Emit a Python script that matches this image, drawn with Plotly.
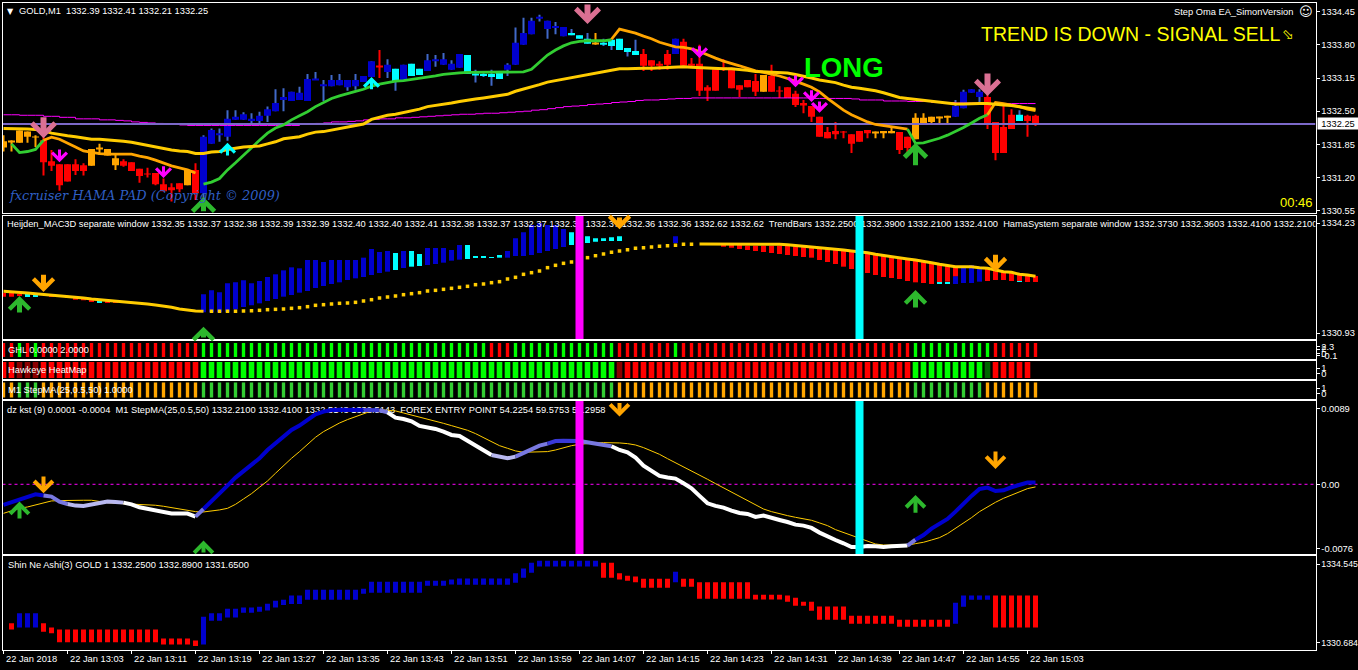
import plotly.graph_objects as go

# ---------- main candles (12:55 .. 15:04, one bar per minute) ----------
body_top = [1331.91,1331.91,1332.12,1332.10,1332.00,1331.93,1331.52,1331.46,1331.46,1331.46,
1331.44,1331.76,1331.77,1331.76,1331.58,1331.52,1331.50,1331.37,1331.27,1331.29,
1331.07,1331.01,1331.09,1331.35,1331.35,1332.00,1332.13,1332.07,1332.35,1332.39,
1332.44,1332.35,1332.41,1332.54,1332.66,1332.78,1332.88,1332.86,1333.13,1333.13,
1333.03,1333.11,1333.11,1333.11,1333.11,1333.19,1333.48,1333.39,1333.41,1333.33,
1333.41,1333.43,1333.33,1333.50,1333.52,1333.52,1333.43,1333.62,1333.60,1333.23,
1333.23,1333.23,1333.29,1333.41,1333.84,1334.03,1334.27,1334.35,1334.27,1334.17,
1334.15,1334.03,1333.99,1333.92,1333.84,1333.84,1333.90,1333.92,1333.74,1333.68,
1333.62,1333.50,1333.43,1333.62,1333.92,1333.86,1333.43,1333.43,1332.97,1333.32,
1333.34,1333.35,1333.01,1333.11,1333.09,1333.21,1333.19,1332.90,1332.97,1332.84,
1332.66,1332.60,1332.39,1332.09,1332.11,1332.10,1332.05,1332.11,1332.13,1332.10,
1332.11,1332.11,1332.09,1332.00,1332.37,1332.37,1332.39,1332.39,1332.41,1332.60,
1332.88,1332.93,1332.88,1332.78,1332.29,1332.19,1332.43,1332.43,1332.41,1332.41]
body_bottom = [1331.79,1331.89,1331.88,1332.00,1331.99,1331.50,1331.43,1331.05,1331.12,1331.33,
1331.33,1331.43,1331.75,1331.63,1331.44,1331.43,1331.33,1331.23,1331.26,1331.07,
1330.93,1330.95,1330.97,1331.05,1330.89,1330.89,1331.86,1332.03,1332.00,1332.33,
1332.33,1332.31,1332.31,1332.41,1332.50,1332.72,1332.70,1332.72,1332.70,1333.11,
1332.99,1332.99,1333.01,1332.97,1332.99,1333.07,1333.17,1333.37,1333.27,1333.09,
1333.09,1333.19,1333.21,1333.29,1333.48,1333.41,1333.31,1333.35,1333.23,1333.21,
1333.19,1333.17,1333.13,1333.31,1333.41,1333.80,1334.01,1334.31,1334.11,1334.13,
1333.97,1333.99,1333.92,1333.82,1333.82,1333.80,1333.78,1333.70,1333.66,1333.60,
1333.39,1333.39,1333.39,1333.41,1333.62,1333.39,1333.39,1332.90,1332.90,1332.90,
1333.33,1332.95,1332.92,1332.97,1332.88,1332.88,1332.88,1332.89,1332.76,1332.62,
1332.61,1332.39,1332.00,1331.97,1332.05,1332.09,1331.86,1331.90,1332.07,1332.08,
1332.07,1332.07,1331.74,1331.78,1331.95,1332.27,1332.29,1332.37,1332.37,1332.39,
1332.56,1332.86,1332.78,1332.25,1331.68,1331.68,1332.15,1332.31,1332.31,1332.25]
candle_high = [1332.03,1331.93,1332.12,1332.10,1332.03,1332.00,1331.74,1331.46,1331.46,1331.56,
1331.48,1331.76,1331.86,1331.76,1331.64,1331.56,1331.50,1331.37,1331.39,1331.29,
1331.18,1331.09,1331.09,1331.35,1331.48,1332.03,1332.16,1332.16,1332.52,1332.52,
1332.48,1332.46,1332.49,1332.59,1332.93,1332.95,1332.88,1332.98,1333.23,1333.27,
1333.11,1333.21,1333.23,1333.11,1333.23,1333.19,1333.48,1333.70,1333.52,1333.33,
1333.41,1333.43,1333.33,1333.62,1333.60,1333.64,1333.50,1333.62,1333.60,1333.31,
1333.29,1333.31,1333.29,1333.44,1334.14,1334.33,1334.33,1334.39,1334.27,1334.25,
1334.15,1334.11,1333.99,1334.03,1334.03,1333.92,1333.90,1333.92,1333.74,1333.90,
1333.72,1333.50,1333.48,1333.70,1333.92,1333.92,1333.54,1333.80,1333.01,1333.32,
1333.52,1333.35,1333.01,1333.11,1333.23,1333.21,1333.41,1332.99,1332.97,1332.90,
1332.72,1332.60,1332.39,1332.19,1332.29,1332.11,1332.05,1332.11,1332.13,1332.10,
1332.11,1332.17,1332.09,1332.00,1332.46,1332.46,1332.39,1332.39,1332.41,1332.72,
1332.92,1332.93,1332.93,1332.85,1332.29,1332.62,1332.54,1332.52,1332.43,1332.43]
candle_low = [1331.71,1331.71,1331.88,1331.88,1331.80,1331.24,1331.33,1330.94,1331.12,1331.25,
1331.24,1331.43,1331.64,1331.63,1331.35,1331.41,1331.33,1331.10,1331.20,1331.05,
1330.93,1330.73,1330.91,1331.05,1330.76,1330.69,1331.86,1331.90,1331.92,1332.33,
1332.33,1332.27,1332.27,1332.29,1332.50,1332.50,1332.70,1332.72,1332.70,1333.11,
1332.70,1332.99,1333.01,1332.90,1332.92,1333.07,1333.17,1333.15,1333.15,1332.90,
1333.09,1333.19,1333.21,1333.29,1333.37,1333.41,1333.31,1333.35,1333.23,1333.06,
1333.17,1333.00,1333.13,1333.19,1333.41,1333.80,1334.01,1334.26,1333.92,1334.01,
1333.97,1333.99,1333.92,1333.82,1333.80,1333.78,1333.70,1333.70,1333.57,1333.60,
1333.29,1333.29,1333.31,1333.31,1333.62,1333.39,1333.35,1332.80,1332.70,1332.90,
1333.29,1332.95,1332.78,1332.97,1332.80,1332.88,1332.88,1332.76,1332.76,1332.58,
1332.46,1332.29,1332.00,1331.97,1331.95,1331.97,1331.68,1331.90,1331.97,1331.97,
1331.97,1332.07,1331.66,1331.66,1331.95,1332.27,1332.25,1332.25,1332.27,1332.39,
1332.56,1332.86,1332.68,1332.15,1331.54,1331.68,1332.15,1332.31,1332.00,1332.21]
# per bar: r red, o orange, b blue, c cyan
candle_kind = ("ooooo" + "r"*6 + "oooo" + "r"*8 + "o" + "r" + "b"*22 + "r" + "b" + "c" + "b" + "cc"
               + "b"*5 + "c"*5 + "b"*8 + "c"*3 + "o" + "c"*5 + "r"*4 + "b" + "r"*10 + "o" + "r"*13
               + "ooo" + "rr" + "ooooo" + "bbbb" + "rrrr" + "c" + "rr")

# ---------- main overlay lines ----------
gold_ma = [1332.16,1332.16,1332.16,1332.15,1332.14,1332.12,1332.07,1332.04,1332.02,1332.00,
1331.97,1331.95,1331.95,1331.94,1331.93,1331.91,1331.89,1331.86,1331.83,1331.80,
1331.76,1331.74,1331.72,1331.71,1331.67,1331.67,1331.70,1331.71,1331.75,1331.78,
1331.80,1331.81,1331.82,1331.86,1331.90,1331.96,1331.98,1332.00,1332.05,1332.09,
1332.10,1332.13,1332.16,1332.19,1332.22,1332.25,1332.34,1332.38,1332.42,1332.44,
1332.47,1332.50,1332.54,1332.59,1332.61,1332.64,1332.66,1332.69,1332.72,1332.74,
1332.76,1332.78,1332.80,1332.83,1332.89,1332.93,1332.97,1333.02,1333.07,1333.10,
1333.13,1333.16,1333.19,1333.22,1333.24,1333.28,1333.31,1333.33,1333.33,1333.34,
1333.34,1333.34,1333.35,1333.36,1333.37,1333.37,1333.36,1333.35,1333.34,1333.34,
1333.33,1333.33,1333.32,1333.30,1333.28,1333.27,1333.27,1333.26,1333.25,1333.22,
1333.19,1333.15,1333.11,1333.09,1333.06,1333.01,1332.97,1332.95,1332.93,1332.90,
1332.86,1332.82,1332.77,1332.75,1332.73,1332.72,1332.70,1332.67,1332.65,1332.64,
1332.64,1332.65,1332.65,1332.65,1332.63,1332.62,1332.61,1332.59,1332.56,1332.54]
magenta_ma = [1332.43,1332.43,1332.42,1332.42,1332.42,1332.40,1332.40,1332.38,1332.38,1332.35,
1332.35,1332.35,1332.33,1332.33,1332.32,1332.31,1332.29,1332.28,1332.27,1332.26,
1332.25,1332.24,1332.23,1332.22,1332.22,1332.22,1332.22,1332.22,1332.22,1332.22,
1332.22,1332.22,1332.22,1332.22,1332.22,1332.22,1332.22,1332.24,1332.25,1332.26,
1332.27,1332.29,1332.29,1332.30,1332.31,1332.33,1332.34,1332.35,1332.35,1332.37,
1332.37,1332.38,1332.39,1332.40,1332.41,1332.42,1332.43,1332.44,1332.44,1332.45,
1332.46,1332.46,1332.47,1332.48,1332.49,1332.50,1332.52,1332.53,1332.55,1332.57,
1332.59,1332.60,1332.61,1332.63,1332.64,1332.65,1332.67,1332.68,1332.69,1332.71,
1332.72,1332.72,1332.73,1332.74,1332.75,1332.75,1332.76,1332.76,1332.76,1332.76,
1332.76,1332.76,1332.76,1332.76,1332.76,1332.76,1332.76,1332.76,1332.76,1332.76,
1332.76,1332.75,1332.75,1332.75,1332.75,1332.75,1332.74,1332.72,1332.72,1332.72,
1332.70,1332.70,1332.70,1332.69,1332.69,1332.69,1332.67,1332.67,1332.67,1332.66,
1332.66,1332.66,1332.65,1332.65,1332.65,1332.65,1332.65,1332.65,1332.65,1332.65]
# step MA runs: (first bar, values, colour key)
step_runs = [
 (1, [1331.86,1331.69,1331.71,1331.75,1331.93], "g"),
 (5, [1331.93,1331.99,1331.95,1331.88,1331.80,1331.72,1331.69,1331.67,1331.66,1331.66,1331.66,
      1331.66,1331.62,1331.59,1331.54,1331.48,1331.43,1331.39,1331.35,1331.29], "o"),
 (25,[1331.07,1331.11,1331.18,1331.35,1331.49,1331.64,1331.80,1331.93,1332.07,1332.17,1332.23,
      1332.33,1332.41,1332.49,1332.59,1332.67,1332.75,1332.80,1332.85,1332.89,1332.93,1332.99,
      1333.03,1333.06,1333.09,1333.10,1333.12,1333.14,1333.17,1333.19,1333.22,1333.24,1333.25,
      1333.26,1333.26,1333.26,1333.26,1333.26,1333.27,1333.27,1333.27,1333.32,1333.47,1333.60,
      1333.70,1333.78,1333.84,1333.87,1333.88,1333.88,1333.88,1333.90], "g"),
 (76,[1333.91,1334.11,1334.07,1334.03,1333.97,1333.92,1333.85,1333.80,1333.76,1333.75,1333.72,
      1333.67,1333.60,1333.54,1333.48,1333.44,1333.39,1333.34,1333.29,1333.26,1333.23,1333.19,
      1333.14,1333.09,1333.03,1332.97,1332.88,1332.75,1332.63,1332.52,1332.43,1332.36,1332.29,
      1332.24,1332.22,1332.20,1332.18,1332.15], "o"),
 (113,[1332.15,1331.87,1331.88,1331.92,1331.97,1332.03,1332.10,1332.18,1332.27,1332.36,1332.43], "g"),
 (123,[1332.43,1332.67,1332.65,1332.62,1332.59,1332.54,1332.51], "o"),
]
current_price = 1332.25

# ---------- Heijden panel ----------
heijden_line = [1332.18,1332.17,1332.15,1332.13,1332.11,1332.09,1332.08,1332.06,1332.03,1332.00,
1331.98,1331.95,1331.93,1331.90,1331.89,1331.88,1331.86,1331.83,1331.80,1331.77,
1331.74,1331.70,1331.65,1331.61,1331.59,1331.58,1331.58,1331.58,1331.58,1331.58,
1331.59,1331.60,1331.61,1331.63,1331.64,1331.65,1331.67,1331.69,1331.72,1331.76,
1331.78,1331.80,1331.82,1331.83,1331.85,1331.89,1331.93,1331.98,1332.01,1332.04,
1332.08,1332.11,1332.14,1332.19,1332.21,1332.24,1332.27,1332.30,1332.33,1332.38,
1332.40,1332.44,1332.47,1332.55,1332.60,1332.69,1332.74,1332.79,1332.89,1332.96,
1333.02,1333.06,1333.12,1333.19,1333.25,1333.30,1333.35,1333.39,1333.43,1333.47,
1333.49,1333.51,1333.53,1333.55,1333.56,1333.59,1333.59,1333.60,1333.60,1333.60,
1333.61,1333.60,1333.59,1333.59,1333.59,1333.59,1333.59,1333.59,1333.58,1333.56,
1333.54,1333.52,1333.50,1333.48,1333.44,1333.42,1333.39,1333.37,1333.34,1333.29,
1333.25,1333.22,1333.19,1333.15,1333.12,1333.09,1333.04,1332.99,1332.95,1332.92,
1332.92,1332.92,1332.89,1332.87,1332.82,1332.77,1332.75,1332.69,1332.67,1332.63]
N = None
heijden_top = [1332.13,1332.13,1332.09,1332.12,1332.09,1332.09,1332.07,1332.06,1332.02,1331.99,
1331.97,1331.92,1331.89,1331.89,1331.89,1331.88,1331.86,1331.83,1331.80,1331.77,
1331.74,1331.70,1331.65,1331.61,1331.59,1332.09,1332.21,1332.15,1332.42,1332.45,
1332.51,1332.42,1332.49,1332.61,1332.69,1332.81,1332.90,1332.87,1333.12,1333.12,
1333.06,1333.12,1333.12,1333.12,1333.12,1333.19,1333.45,1333.36,1333.39,1333.33,
1333.39,1333.39,1333.30,1333.48,1333.48,1333.48,1333.42,1333.57,1333.57,1333.23,
1333.23,1333.21,1333.27,1333.39,1333.77,1333.95,1334.17,1334.23,1334.17,1334.17,
1334.05,1333.95,1333.87,1333.83,1333.77,1333.77,1333.80,1333.83,N,N,
N,N,N,N,1333.83,N,N,N,N,N,
1333.59,1333.59,1333.57,1333.55,1333.55,1333.55,1333.55,1333.55,1333.55,1333.55,
1333.51,1333.51,1333.49,1333.47,1333.44,1333.42,1333.39,1333.37,1333.32,1333.29,
1333.25,1333.22,1333.19,1333.15,1333.12,1333.09,1333.04,1332.99,1332.95,1332.92,
1332.92,1332.97,1332.92,1332.87,1332.82,1332.77,1332.75,1332.69,1332.67,1332.64]
heijden_bottom = [1332.02,1332.02,1332.05,1332.01,1332.01,1332.07,1332.01,1332.02,1331.99,1331.93,
1331.91,1331.86,1331.83,1331.85,1331.84,1331.85,1331.83,1331.81,1331.78,1331.75,
1331.72,1331.68,1331.63,1331.59,1331.57,1331.55,1331.55,1331.55,1331.57,1331.64,
1331.71,1331.76,1331.82,1331.89,1331.95,1332.02,1332.07,1332.14,1332.19,1332.28,
1332.34,1332.40,1332.45,1332.52,1332.57,1332.61,1332.67,1332.73,1332.77,1332.82,
1332.88,1332.92,1332.94,1332.97,1333.00,1333.04,1333.10,1333.13,1333.15,1333.19,
1333.19,1333.19,1333.19,1333.19,1333.24,1333.24,1333.27,1333.33,1333.39,1333.45,
1333.51,1333.57,1333.62,1333.63,1333.67,1333.69,1333.69,1333.69,N,N,
N,N,N,N,1333.63,N,N,N,N,N,
1333.52,1333.49,1333.45,1333.42,1333.39,1333.36,1333.33,1333.30,1333.27,1333.24,
1333.21,1333.19,1333.12,1333.06,1333.00,1332.92,1332.85,1332.79,1332.73,1332.67,
1332.61,1332.58,1332.55,1332.49,1332.45,1332.43,1332.40,1332.45,1332.47,1332.62,
1332.43,1332.43,1332.47,1332.49,1332.52,1332.52,1332.49,1332.49,1332.46,1332.46]
heijden_kind = ("rrr"+"cc"+"r"*7+"c"+"r"*12+"b"*24+"c"+"b"+"cc"+"b"*5+"c"*5+"b"*8+"c"*7+"n"*6+"b"+"n"*5
                +"r"*30+"bbb"+"r"*7)
heijden_extra_bar = [117,118,119,127]
heijden_extra_top = [1332.46,1332.46,1332.63,1332.49]
heijden_extra_bottom = [1332.41,1332.41,1332.40,1332.46]
heijden_extra_kind = "ccbc"

# ---------- signal strips ----------
ghl_state = "rrgrg"+"r"*20+"g"*36+"rrr"+"g"*13+"r"*7+"g"+"r"*29+"g"*10+"r"*6
hawkeye_state = "rrddd"+"r"*20+"g"*52+"d"+"r"*36+"g"*9+"k"+"r"*5+"n"
stepma_state = "oo"+"ggg"+"o"*20+"g"*52+"o"*37+"g"*9+"o"*7

# ---------- KST panel (thousandths) ----------
kst_milli = [-2.43,-2.12,-1.73,-1.45,-1.18,-1.33,-1.45,-2.04,-2.32,-2.51,
-2.55,-2.36,-2.12,-2.04,-2.08,-2.16,-2.36,-2.71,-2.87,-3.06,
-3.26,-3.45,-3.45,-3.45,-3.81,-2.91,-2.04,-1.14,-0.16,0.79,
1.57,2.36,3.06,4.04,4.83,5.61,6.40,6.91,7.54,8.24,
8.56,8.75,8.79,8.79,8.75,8.75,8.75,8.72,8.48,7.85,
7.69,7.42,6.87,6.71,6.52,6.20,5.81,5.69,5.14,4.55,
4.04,3.45,3.22,3.06,3.26,3.65,4.04,4.55,4.79,5.10,
5.14,5.14,5.10,4.95,4.79,4.63,4.48,4.04,3.77,3.14,
2.20,1.57,0.98,0.79,0.67,0.12,-0.47,-1.37,-2.24,-2.55,
-2.75,-3.10,-3.38,-3.49,-3.85,-3.69,-4.00,-4.20,-4.44,-4.75,
-4.87,-5.14,-5.69,-6.16,-6.56,-6.95,-7.38,-7.38,-7.26,-7.30,
-7.38,-7.30,-7.26,-7.22,-6.52,-5.97,-5.22,-4.59,-4.08,-3.22,
-2.24,-1.37,-0.55,-0.39,-0.79,-0.71,-0.35,-0.08,0.20,0.20]
kst_signal_milli = [-3.42,-3.14,-2.83,-2.67,-2.43,-2.16,-1.96,-1.92,-1.88,-1.88,
-1.88,-1.88,-2.04,-2.16,-2.24,-2.28,-2.32,-2.36,-2.39,-2.47,
-2.59,-2.75,-2.91,-3.06,-3.22,-3.26,-3.18,-3.02,-2.83,-2.36,
-1.73,-1.10,-0.35,0.39,1.30,2.20,3.06,3.85,4.75,5.54,
6.20,6.75,7.22,7.62,7.97,8.36,8.64,8.79,8.72,8.64,
8.40,8.17,7.93,7.69,7.46,7.18,6.91,6.67,6.36,5.97,
5.50,5.03,4.55,4.24,3.93,3.77,3.77,3.81,3.85,4.04,
4.32,4.55,4.71,4.83,4.87,4.91,4.91,4.87,4.79,4.63,
4.32,3.93,3.53,3.02,2.55,2.04,1.57,1.06,0.59,0.08,
-0.43,-0.90,-1.37,-1.96,-2.43,-2.91,-3.22,-3.49,-3.69,-3.89,
-4.08,-4.24,-4.55,-4.87,-5.34,-5.69,-6.05,-6.40,-6.75,-7.03,
-7.15,-7.18,-7.22,-7.18,-6.99,-6.83,-6.56,-6.28,-5.81,-5.18,
-4.59,-3.93,-3.22,-2.63,-2.12,-1.65,-1.26,-0.86,-0.51,-0.31]
kst_shade = "B"*6+"M"*3+"L"*7+"W"*9+"M"+"B"*20+"DD"+"M"+"W"*13+"LLL"+"M"*4+"D"*4+"M"*4+"W"*37+"M"+"B"*15

# ---------- Shin Ne Ashi panel ----------
shin_top = [N,1331.64,1332.13,1332.13,1332.13,1331.64,1331.44]+[1331.34]*13+[1330.90]*4+[1330.80,1331.96,
 1332.13,1332.13,1332.36,1332.36,1332.42,1332.42,1332.45,1332.60,1332.75,1332.80,1333.00,1333.00]+[1333.29]*7+[1333.34]+[1333.68]*7+[1333.73]*3+[1333.79]+[1333.84]*7+[1334.09,1334.33,1334.61]+[1334.71]*8+[1334.61,1334.61,1334.09,1333.97,1333.93]+[1333.83]*4+[1334.17,1333.83,1333.83]+[1333.65]*7+[1333.04]*4+[1333.00,1332.90,1332.70,1332.70]+[1332.47]*4+[1332.01]*6+[1331.82]*7+[1332.65,1333.00,1333.00,1333.00,1333.00]+[1333.00]*6
shin_bottom = [N,1331.34,1331.44,1331.44,1331.44,1331.23,1331.15]+[1330.71]*13+[1330.61]*4+[1330.53,1330.61,
 1331.77,1331.77,1331.93,1331.93,1332.16,1332.16,1332.21,1332.27,1332.42,1332.54,1332.59,1332.59]+[1332.80]*7+[1333.09]+[1333.14]*7+[1333.48]*3+[1333.55]+[1333.53]*7+[1333.63,1333.88,1334.12]+[1334.43]*8+[1333.88,1333.88,1333.79,1333.73,1333.65]+[1333.39]*4+[1333.65,1333.43,1333.43]+[1332.85]*7+[1332.81]*4+[1332.70,1332.50,1332.50,1332.26]+[1331.82]*4+[1331.62]*6+[1331.47]*7+[1331.62,1332.45,1332.80,1332.80,1332.80]+[1331.44]*6
shin_kind = "n"+"r"+"bbb"+"r"*20+"b"*50+"r"*9+"b"+"r"*34+"b"*5+"r"*6

# ---------- axes, labels ----------
bars = list(range(130))
time_tick_bars = [0,8,16,24,32,40,48,56,64,72,80,88,96,104,112,120,128]
time_tick_labels = ["22 Jan 2018","22 Jan 13:03","22 Jan 13:11","22 Jan 13:19","22 Jan 13:27","22 Jan 13:35",
 "22 Jan 13:43","22 Jan 13:51","22 Jan 13:59","22 Jan 14:07","22 Jan 14:15","22 Jan 14:23","22 Jan 14:31",
 "22 Jan 14:39","22 Jan 14:47","22 Jan 14:55","22 Jan 15:03"]
main_ticks = [1334.45,1333.80,1333.15,1332.50,1331.85,1331.20,1330.55]
heijden_ticks = [1334.23,1330.93]
kst_ticks_milli = [8.9,0.0,-7.6]
kst_tick_text = ["0.0089","0.00","-0.0076"]
shin_ticks = [1334.545,1330.684]

FONT = "Liberation Sans"
TXT = 9.3
W, H = 1358, 670
L, R = 2.5, 1315.5
panels = {  # number: (top px, bottom px, y range)
 1:(2.5,213,[1330.505,1334.63]),
 2:(216,339,[1330.75,1334.44]),
 3:(341,359,[0,1]),
 4:(361,379,[0,1]),
 5:(381,399,[0,1]),
 6:(401,554,[-8.21,9.81]),
 7:(556,649.5,[1330.36,1334.94]),
}
X_RANGE = [(L-3.5)/8,(R-3.5)/8]

COL = dict(r="#FF0000",o="#FFA500",b="#0000CD",c="#00FFFF",g="#00FF00",d="#8B0000",k="#006400",n="rgba(0,0,0,0)")
GREEN = "#32CD32"; GOLD = "#FFCC00"; PINK = "#DB7093"; MAG = "#FF00FF"
WICK = dict(r="#FF0000",o="#FFA500",b="#4169C8",c="#4169C8")
KST = dict(B="#0000CD",D="#3A3AD6",M="#7878E0",L="#B8B8F0",W="#FFFFFF")

fig = go.Figure()
def ax(n): return ("x" if n==1 else f"x{n}"), ("y" if n==1 else f"y{n}")

def band(n, xs, tops, bottoms, colors, width):
    xa, ya = ax(n)
    ys = [None if t is None else t-b for t,b in zip(tops,bottoms)]
    fig.add_trace(go.Bar(x=xs,y=ys,base=bottoms,width=width,marker=dict(color=colors,line=dict(width=0)),
                         xaxis=xa,yaxis=ya,showlegend=False,hoverinfo="skip"))
def line(n, xs, ys, color, width, **kw):
    xa, ya = ax(n)
    fig.add_trace(go.Scatter(x=xs,y=ys,mode="lines",line=dict(color=color,width=width,**kw),
                             xaxis=xa,yaxis=ya,showlegend=False,hoverinfo="skip"))
def text_in(n, x, y, s, color="#FFFFFF", size=TXT):
    xa, ya = ax(n)
    fig.add_trace(go.Scatter(x=[x],y=[y],mode="text",text=[s],textposition="middle right",
                             textfont=dict(family=FONT,size=size,color=color),
                             xaxis=xa,yaxis=ya,showlegend=False,hoverinfo="skip"))
anns = []
def arrow(n, bar, tip, tail, color, width, size):
    xa, ya = ax(n)
    anns.append(dict(x=bar,y=tip,ax=bar,ay=tail,xref=xa,yref=ya,axref=xa,ayref=ya,text="",showarrow=True,
                     arrowhead=4,arrowsize=size,arrowwidth=width,arrowcolor=color,standoff=0,startstandoff=0))
def label(px, py, s, color="#FFFFFF", size=TXT, anchor="left", **kw):
    fam = kw.pop("family", FONT)
    anns.append(dict(x=px/W,y=1-py/H,xref="paper",yref="paper",text=s,showarrow=False,xanchor=anchor,yanchor="middle",
                     font=dict(family=fam,size=size,color=color),borderpad=0,**kw))

# main panel
band(1,bars,candle_high,candle_low,[WICK[k] for k in candle_kind],0.125)
band(1,bars,body_top,body_bottom,[COL[k] for k in candle_kind],0.875)
line(1,bars,magenta_ma,MAG,1,shape="hv")
line(1,[X_RANGE[0],X_RANGE[1]],[current_price,current_price],"#7B68C8",2)
for start,vals,key in step_runs:
    line(1,list(range(start,start+len(vals))),vals,GREEN if key=="g" else COL["o"],2.8)
line(1,bars,gold_ma,GOLD,3)

# heijden panel
hdr2a = ("Heijden_MAC3D separate window 1332.35 1332.37 1332.38 1332.39 1332.39 1332.40 1332.40 1332.41 1332.38 "
         "1332.37 1332.37 1332.37 1332.37 1332.36 1332.36 1332.62 1332.62  TrendBars 1332.2500 "
         "1332.3900 1332.2100 1332.4100  HamaSystem separate window 1332.3730 1332.3603 1332.4100 1332.2100")
text_in(2,(7-3.5)/8,1334.17,hdr2a)
band(2,bars,heijden_top,heijden_bottom,[COL[k] for k in heijden_kind],0.625)
band(2,heijden_extra_bar,heijden_extra_top,heijden_extra_bottom,[COL[k] for k in heijden_extra_kind],0.625)
line(2,bars[:26],heijden_line[:26],GOLD,3)
xa,ya = ax(2)
fig.add_trace(go.Scatter(x=bars[26:87],y=heijden_line[26:87],mode="markers",marker=dict(symbol="square",size=3.5,color=GOLD,line=dict(width=0)),
                         xaxis=xa,yaxis=ya,showlegend=False,hoverinfo="skip"))
line(2,bars[87:],heijden_line[87:],GOLD,3)
line(2,[72,72],panels[2][2],MAG,8)
line(2,[107,107],panels[2][2],COL["c"],8)

# strips
band(3,bars,[0.89]*130,[0.11]*130,[COL[k] for k in ghl_state],0.42)
band(4,bars,[0.95]*130,[0.05]*130,[COL[k] for k in hawkeye_state],0.7)
band(5,bars,[0.92]*130,[0.08]*130,[GREEN if k=="g" else COL[k] for k in stepma_state],0.42)

# kst panel
text_in(6,(7-3.5)/8,8.65,"dz kst (9) 0.0001 -0.0004  M1 StepMA(25,0.5,50) 1332.2100 1332.4100 1332.5143 1332.5143  FOREX ENTRY POINT 54.2254 59.5753 59.2958")
line(6,[X_RANGE[0],X_RANGE[1]],[0,0],MAG,1,dash="3px,3px")
line(6,bars,kst_signal_milli,GOLD,1)
start = 0
for i in range(1,131):
    if i==130 or kst_shade[i]!=kst_shade[start]:
        s = max(start-1,0)
        line(6,bars[s:i],kst_milli[s:i],KST[kst_shade[start]],4)
        start = i
line(6,[72,72],panels[6][2],MAG,8)
line(6,[107,107],panels[6][2],COL["c"],8)

# shin panel
band(7,bars,shin_top,shin_bottom,[COL[k] for k in shin_kind],0.625)

# arrows
for b,tip,tail in [(5,1331.97,1332.41),(73,1334.21,1334.62),(123,1332.80,1333.27)]: arrow(1,b,tip,tail,PINK,6,0.75)
for b,tip,tail in [(25,1330.82,1330.51),(114,1331.88,1331.41)]: arrow(1,b,tip,tail,"#2DB82D",5,0.85)
for b,tip,tail in [(7,1331.50,1331.78),(20,1331.19,1331.45),(87,1333.54,1333.80),(99,1332.97,1333.23),(101,1332.68,1332.94),(102,1332.47,1332.72)]: arrow(1,b,tip,tail,MAG,3,0.95)
for b,tip,tail in [(28,1331.88,1331.60),(46,1333.17,1332.90)]: arrow(1,b,tip,tail,COL["c"],3,0.95)
for b,tip,tail in [(5,1332.16,1332.72),(77,1334.04,1334.44),(124,1332.77,1333.32)]: arrow(2,b,tip,tail,COL["o"],5,0.78)
for b,tip,tail in [(2,1332.04,1331.50),(25,1331.12,1330.75),(114,1332.22,1331.65)]: arrow(2,b,tip,tail,"#2DB82D",5,0.78)
for b,tip,tail in [(2,-2.04,-4.20),(25,-6.63,-8.2),(114,-1.26,-3.53)]: arrow(6,b,tip,tail,"#2DB82D",4,0.9)
for b,tip,tail in [(5,-1.06,1.10),(77,7.97,9.75),(124,1.81,4.04)]: arrow(6,b,tip,tail,COL["o"],4,0.9)

# text
label(18,11,"GOLD,M1  1332.39 1332.41 1332.21 1332.25")
label(6,11,"▼",size=8,family="DejaVu Sans")
label(1173,11.5,"Step Oma EA_SimonVersion")
label(1298,11.5,"☺",size=13,family="DejaVu Sans")
label(980,34,"TREND IS DOWN - SIGNAL SELL",color="#FFFF00",size=19.5)
label(1281,34,"⬂",color="#FFFF00",size=14,family="DejaVu Sans")
label(803,68,"<b>LONG</b>",color="#00FF00",size=27.6)
label(1279,202,"00:46",color="#FFFF00",size=13)
label(8,195,"<i>fxcruiser HAMA PAD (Copyright © 2009)</i>",color="#2F5FC4",size=12.9,family="DejaVu Serif")
label(7,350,"GHL 0.0000 2.0000")
label(7,370,"Hawkeye HeatMap")
label(7,390,"M1 StepMA(25,0.5,50) 1.0000")
label(7,565,"Shin Ne Ashi(3) GOLD 1 1332.2500 1332.8900 1331.6500")
label(1317,123.5,"1332.25",color="#000000",bgcolor="#FFFFFF",width=40,height=11,align="center")
for t,s in zip(time_tick_bars,time_tick_labels):
    anns.append(dict(x=t,y=1-659/H,xref="x7",yref="paper",text=s,showarrow=False,xanchor="left",yanchor="middle",
                     font=dict(family=FONT,size=TXT,color="#FFFFFF")))

lay = dict(width=W,height=H,autosize=False,margin=dict(l=0,r=0,t=0,b=0,autoexpand=False),paper_bgcolor="#000000",plot_bgcolor="#000000",
           barmode="overlay",showlegend=False,annotations=anns,hovermode=False)
tick_sets = {1:(main_ticks,[f"{v:.2f}" for v in main_ticks]),
             2:(heijden_ticks,[f"{v:.2f}" for v in heijden_ticks]),
             3:([0.67,0.55,0.28,0.17],["2.3","2","0","-0.1"]),
             4:([0.6,0.3],["1","0"]),
             5:([0.6,0.3],["1","0"]),
             6:(kst_ticks_milli,kst_tick_text),
             7:(shin_ticks,[f"{v:.3f}" for v in shin_ticks])}
for n,(top,bot,rng) in panels.items():
    xn = "xaxis" if n==1 else f"xaxis{n}"
    yn = "yaxis" if n==1 else f"yaxis{n}"
    xa,ya = ax(n)
    lay[xn] = dict(domain=[L/W,R/W],range=X_RANGE,anchor=ya,showgrid=False,zeroline=False,showline=True,linecolor="#FFFFFF",
                   linewidth=1,mirror=True,showticklabels=False,ticks="outside" if n==7 else "",ticklen=3,tickcolor="#FFFFFF",
                   tickmode="array",tickvals=time_tick_bars if n==7 else [],fixedrange=True)
    vals,txt = tick_sets[n]
    lay[yn] = dict(domain=[1-bot/H,1-top/H],range=rng,anchor=xa,side="right",showgrid=False,zeroline=False,showline=True,
                   linecolor="#FFFFFF",linewidth=1,mirror=True,ticks="outside",ticklen=3,tickcolor="#FFFFFF",
                   tickmode="array",tickvals=vals,ticktext=txt,
                   tickfont=dict(family=FONT,size=8.8 if n==7 else TXT,color="#FFFFFF"),fixedrange=True)
fig.update_layout(**lay)
fig.write_html("out.html",config=dict(displayModeBar=False),
               post_script="document.body.style.margin='0';document.body.style.background='#000';document.documentElement.style.overflow='hidden';")
